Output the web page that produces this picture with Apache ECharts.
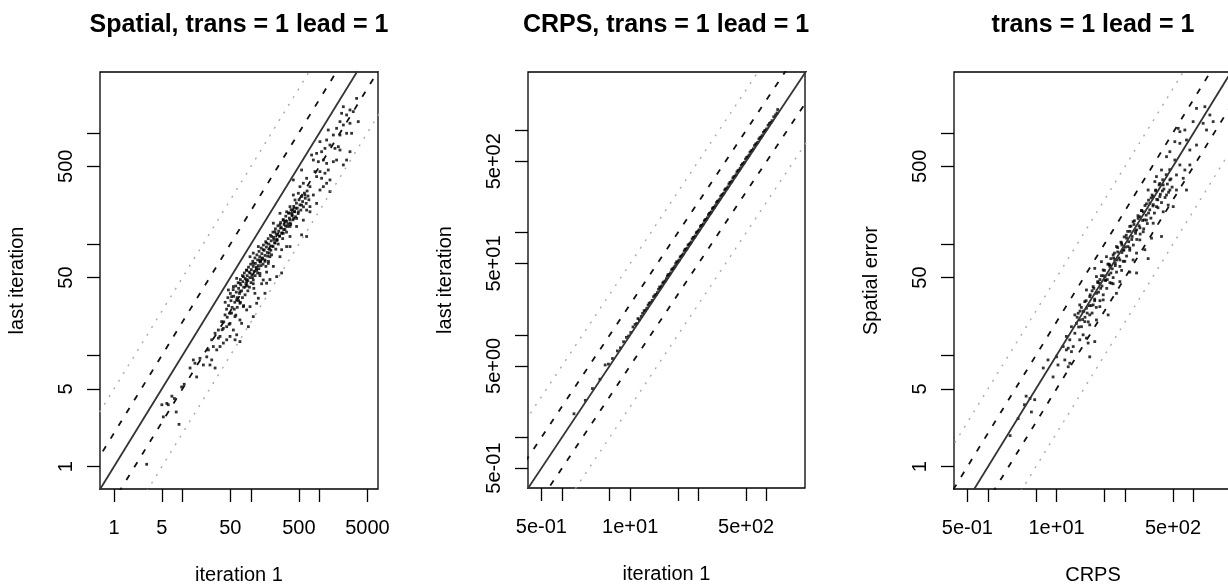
<!DOCTYPE html>
<html>
<head>
<meta charset="utf-8">
<script src="https://cdn.jsdelivr.net/npm/echarts@6/dist/echarts.min.js"></script>
<style>
html, body { margin: 0; padding: 0; background: #fff; }
#chart { width: 1228px; height: 585px; }
</style>
</head>
<body>
<div id="chart"></div>
<script>
// panel 1: spatial error, [iteration 1, last iteration]
const spatialPairs = [
  [8.9,2.4],[8.1,3.1],[7.0,4.3],[7.6,4.1],[6.2,3.6],[9.7,5.2],[10.6,5.5],[12.9,7.7],[14.4,9.1],[15.2,8.5],
  [16.1,6.4],[20.2,8.2],[25.2,8.2],[29.9,7.7],[26.7,9.1],[22.6,9.7],[23.9,11.2],[28.2,12.0],[31.6,11.2],[35.3,12.0],
  [39.5,12.9],[44.2,13.8],[49.4,14.8],[58.5,13.8],[69,13.3],[35.3,14.8],[26.7,13.8],[29.9,15.8],[33.4,16.9],[39.5,17.5],
  [44.2,18.1],[55.3,16.9],[61.8,15.3],[37.3,20.1],[41.8,23.1],[49.4,23.9],[58.5,22.3],[69,20.8],[73,19.4],[91.6,18.1],
  [108,22.3],[121,29.4],[96.8,27.4],[77.4,27.4],[69,29.4],[61.8,31.5],[52.2,33.7],[46.8,38.7],[55.3,41.5],[69,44.5],
  [86.5,46],[108,47.6],[135,54.6],[151,47.6],[114,36.1],[128,32.6],[169,44.5],[160,36.1],[179,67],[135,69.5],
  [108,67],[96.8,77],[86.5,58.5],[77.4,51],[61.8,49.2],[33.4,14.3],[49.4,19.4],[86.5,25.6],[69,37.4],[18,9.4],
  [3483,2037],[2786,1603],[2228,1714],[2104,1496],[2489,1445],[3112,1549],[3681,1259],[2786,1216],[1991,1259],[2228,1175],
  [2489,989],[2944,989],[1778,1096],[1343,1059],[1592,955],[1991,955],[1271,861],[1016,832],[1422,776],[1884,750],
  [1683,724],[1991,700],[2786,676],[1202,724],[1074,676],[908,653],[767,631],[813,569],[962,550],[1138,569],
  [1271,531],[1592,550],[1778,569],[2489,569],[2228,514],[1343,463],[1202,433],[1016,448],[859,448],[908,404],
  [1074,390],[1422,377],[1271,352],[1138,328],[1422,296],[1016,306],[649,390],[581,352],[519,328],[726,328],
  [548,463],[614,276],[813,276],[908,232],[726,217],[649,202],[548,224],[439,249],[415,276],[371,217],
  [331,195],[392,189],[463,170],[581,164],[726,195],[649,117],[548,121],[463,144],[371,144],[296,164],
  [265,149],[212,154],[224,129],[296,125],[371,117],[331,95],[280,89],[237,109],[200,117],[169,102],
  [151,89],[128,95],[108,83],[135,72],[160,70],[189,77],[212,63],[169,56],[121,58],[97,55],
  [86,48],[108,44],[143,44],[189,48],[237,51],[280,55],[371,95],[265,77],[491,195],[265,189],
  [415,377],[491,286],
  [40,20],[45,22],[52,24],[57,26],[63,27],[70,30],[75,33],[82,35],[90,38],[95,41],
  [100,45],[105,50],[115,52],[125,55],[130,60],[140,64],[150,66],[160,72],[175,78],[185,83],
  [195,88],[210,95],[225,102],[240,108],[260,118],[280,125],[300,135],[320,145],[345,152],[370,165],
  [400,180],[430,195],[38,17],[48,19],[60,23],[66,31],[78,28],[88,42],[110,40],[120,62],
  [135,52],[145,75],[165,63],[180,70],[200,80],[215,110],[230,90],[250,100],[270,140],[290,112],
  [310,160],[330,128],[360,190],[380,150],[420,170],[450,210],
  [3.0,1.05],[5.25,2.8],[5.9,3.7],[5.0,3.6],
  [42,30],[44,26],[46,33],[47,28],[50,36],[51,31],[53,27],[55,39],[56,34],[58,30],
  [60,42],[61,37],[63,33],[65,45],[66,40],[68,36],[70,48],[71,43],[73,38],[75,52],
  [76,46],[78,41],[80,55],[82,49],[84,44],[86,58],[88,52],[90,47],[92,62],[94,56],
  [96,50],[99,66],[101,59],[103,53],[106,70],[108,63],[111,57],[114,75],[116,67],[119,60],
  [122,80],[125,72],[128,64],[131,86],[134,77],[137,69],[141,92],[144,82],[148,74],[152,98],
  [156,88],[160,79],[164,105],[168,94],[173,84],[178,112],[182,100],[187,90],[192,120],[197,107],
  [203,96],[209,128],[215,115],[221,103],[227,137],[233,123],[240,110],[247,146],[254,131],[262,118],
  [270,156],[278,140],[286,126],[295,166],[304,150],[313,135],[322,178],[332,160],[342,144],[352,190],
  [363,171],[374,154],[385,204],[397,183],[409,165],[421,218],[434,196],[447,176],[460,233],[474,210],
  [488,188],[503,250],[518,225],[534,202],[550,268],[567,241],[584,216],[602,287],[620,258],[640,232],
  [660,300],[680,270],[700,250]
];

// panel 2: CRPS, [iteration 1, last iteration]
const crpsPairs = [
  [1.5,1.7],[2.2,2.3],[3.6,3.7],[4.3,5.1],[4.8,5.2],[6.5,7.0],[8,8.6],[9.5,9.8],[11,12],[12.5,13],
  [13,14.5],[14.5,15.2],[16,17.3],[17.5,18.2],[19,20.5],[21,21.8],[23,24.6],[25,26],[27,29.5],[29,30.2],
  [31,33],[34,35.5],[36,39],[39,40.5],[42,44.5],[45,46.8],[48,52],[52,54],[56,59],[60,62],
  [64,69],[68,70.5],[73,77],[78,81],[84,90],[90,93],[96,102],[103,107],[110,118],[118,122],
  [126,134],[135,140],[145,155],[155,160],[165,176],[178,184],[190,203],[205,212],[220,234],[235,243],
  [250,268],[270,280],[290,310],[310,320],[330,352],[355,368],[380,405],[410,425],[440,470],[470,487],
  [510,545],[550,570],[590,630],[640,662],[690,735],[740,765],[800,850],[860,890],[930,990],[1000,1035],
  [1100,1170],[1200,1245],[1350,1420],[1450,1600],
  [2.8,3.0],[5.5,5.9],[7.2,7.5],[8.8,9.5],[10.2,10.6],[11.8,12.7],[13.6,14.1],[15.2,16.3],[16.8,17.4],[18.3,19.6],
  [20,20.8],[22,23.7],[24,24.9],[26,28],[28,29],[30,32.3],[32.5,33.8],[35,37.6],[37.5,39],[40.5,43.5],
  [43.5,45.2],[46.5,50],[50,52],[54,58],[58,60.3],[62,66.5],[66,68.6],[70.5,75.8],[75.5,78.5],[81,87],
  [87,90.5],[93,100],[100,104],[107,115],[114,118.5],[122,131],[130,135],[140,150],[150,156],[160,172],
  [171,178],[184,197],[197,205],[212,227],[228,237],[243,261],[260,270],[280,300],[300,312],[320,343],
  [342,355],[367,393],[395,410],[425,455],[455,473],[490,525],[530,551],[570,610],[615,640],[665,712],
  [715,743],[770,825],[830,862],[895,958],[965,1003],[1050,1125],[1150,1196],[1270,1360],[1420,1480]
];

// panel 3: [CRPS, spatial error]
const crpsSpatialPairs = [
  [3.6,4.3],[4.1,4.1],[3.4,3.6],[4.3,3.1],[4.8,4.0],[2.75,2.7],[2.1,1.9],[6.4,7.7],[7.5,9.1],[8.9,6.4],
  [10.5,8.2],[14.8,7.9],[15.6,8.5],[13.2,9.1],[13.9,11.2],[16.5,10.8],[12.5,12.0],[17.5,12.0],[21.8,13.8],[28.9,12.9],
  [36.1,13.3],[15.6,13.8],[13.9,14.8],[18.5,15.8],[24.4,15.3],[27.3,14.3],[16.5,18.1],[19.5,19.4],[21.8,20.8],[25.8,20.1],
  [30.5,18.8],[38.2,20.8],[18.5,23.1],[20.7,23.9],[24.4,24.7],[30.5,23.1],[27.3,26.5],[21.8,28.4],[25.8,30.4],[34.2,28.4],
  [42.8,27.4],[56.6,23.1],[30.5,33.7],[38.2,36.1],[47.9,31.5],[27.3,38.7],[34.2,41.5],[42.8,44.5],[50.6,47.6],[63.2,44.5],
  [74.8,36.1],[38.2,51],[47.9,58.5],[59.8,64.9],[70.8,72],[53.5,77],[45.2,69.5],[36.1,60.5],[10,9.7],[14.8,11.6],
  [30.5,9.7],[23.1,18.1],
  [1459,1714],[1102,1656],[1726,1445],[1928,1259],[1377,1216],[1542,1059],[984,1259],[745,1059],[596,1096],[787,861],
  [630,804],[532,832],[1102,776],[881,700],[450,676],[402,610],[532,569],[630,514],[881,514],[745,463],
  [562,418],[705,390],[787,306],[562,306],[450,377],[340,463],[287,404],[272,364],[360,340],[402,276],
  [321,267],[257,267],[217,306],[230,232],[287,217],[426,224],[504,217],[360,195],[184,195],[164,176],
  [205,164],[257,154],[131,159],[117,144],[147,134],[184,129],[340,117],[243,113],[164,109],[105,113],
  [89,102],[75,95],[94,89],[117,92],[147,83],[194,89],[131,72],[99,70],[75,72],[67,80],
  [60,63],[89,58],[117,56],[147,55],[51,51],[43,48],[67,44],[84,46],[217,74],[450,306],
  [630,1023],
  [22,25],[26,22],[30,28],[33,38],[36,31],[40,45],[44,40],[48,52],[55,48],[58,66],
  [62,55],[68,75],[72,64],[78,85],[84,72],[90,98],[96,88],[104,120],[110,95],[118,130],
  [125,110],[135,150],[142,125],[155,170],[165,140],[175,200],[190,165],[205,230],[220,190],[240,260],
  [255,220],[280,300],[300,250],[320,350],[350,300],
  [20,22],[21,18],[23,27],[24,21],[25,25],[27,31],[28,24],[29,20],[31,35],[32,28],
  [33,24],[35,40],[36,32],[38,27],[40,46],[41,37],[43,31],[45,52],[46,42],[48,35],
  [50,58],[52,47],[54,40],[56,66],[58,53],[60,45],[62,74],[65,60],[67,50],[70,83],
  [72,67],[75,56],[78,93],[81,75],[84,63],[87,104],[90,84],[94,70],[97,116],[101,94],
  [105,78],[109,130],[113,105],[117,88],[122,145],[127,117],[132,98],[137,162],[142,131],[148,110],
  [154,180],[160,146],[166,123],[173,200],[180,163],[187,137],[195,222],[203,182],[211,153],[220,248],
  [229,203],[238,171],[248,276],[258,226],[268,190],[279,306],[290,252],[302,212],[314,340],[327,280],
  [340,236],[354,378],[368,312],[383,262],[398,420],[414,346],[431,292],[448,466],[466,385],[485,325]
];

const panelTitles = ['Spatial, trans = 1 lead = 1', 'CRPS, trans = 1 lead = 1', 'trans = 1 lead = 1'];
const xNames = ['iteration 1', 'iteration 1', 'CRPS'];
const yNames = ['last iteration', 'last iteration', 'Spatial error'];

// ticks, and the subset that gets a label (R leaves out the crowded ones)
const plainTicks = [1, 5, 10, 50, 100, 500, 1000, 5000];
const plainLabelsX = [1, 5, 50, 500, 5000];
const plainLabelsY = [1, 5, 50, 500];
const sciTicks = [0.5, 1, 5, 10, 50, 100, 500, 1000];
const sciLabelsX = [0.5, 10, 500];
const sciLabelsY = [0.5, 5, 50, 500];
const sciValues = [0.5, 1, 5, 10, 50, 100, 500, 1000];
const sciTexts = ['5e-01', '1e+00', '5e+00', '1e+01', '5e+01', '1e+02', '5e+02', '1e+03'];

// reference lines y = k * x
const lineRatios = [1, 2, 0.5, 5, 0.2];

const xRanges = [[0.625, 7145], [0.318, 3648], [0.319, 3630]];
const yRanges = [[0.63, 3516], [0.32, 3724], [0.63, 3516]];

const font = '"Liberation Sans", Arial, Helvetica, sans-serif';
const grids = [
  {left: 100, top: 72, width: 278, height: 417},
  {left: 528, top: 72, width: 277, height: 416},
  {left: 954, top: 72, width: 278, height: 417}
];
const titleX = [239, 666, 1093];
const pairsByPanel = [spatialPairs, crpsPairs, crpsSpatialPairs];

function sciLabel(v) {
  for (let i = 0; i < sciValues.length; i++) {
    if (Math.abs(Math.log10(v) - Math.log10(sciValues[i])) < 1e-6) return sciTexts[i];
  }
  return '';
}

function makeAxis(i, isX) {
  const range = isX ? xRanges[i] : yRanges[i];
  const sci = isX ? i > 0 : i === 1;
  const ticks = sci ? sciTicks : plainTicks;
  const labels = sci ? (isX ? sciLabelsX : sciLabelsY) : (isX ? plainLabelsX : plainLabelsY);
  return {
    type: 'log',
    logBase: 10,
    gridIndex: i,
    min: range[0],
    max: range[1],
    name: isX ? xNames[i] : yNames[i],
    nameLocation: 'middle',
    nameGap: isX ? 76 : 73,
    nameMoveOverlap: false,
    nameTextStyle: {fontFamily: font, fontSize: 20, color: '#000'},
    axisLine: {show: false},
    axisTick: {show: true, inside: false, length: 13, customValues: ticks,
      lineStyle: {color: '#000', width: 1.3}},
    axisLabel: {
      customValues: labels,
      rotate: isX ? 0 : 90,
      margin: isX ? 29 : 24,
      fontFamily: font, fontSize: 20, color: '#000',
      formatter: v => sci ? sciLabel(v) : String(+Number(v).toPrecision(6))
    },
    splitLine: {show: false},
    minorTick: {show: false}
  };
}

const series = [];
for (let i = 0; i < 3; i++) {
  series.push({
    type: 'scatter',
    xAxisIndex: i, yAxisIndex: i,
    data: pairsByPanel[i],
    symbol: 'rect',
    symbolSize: 2.8,
    itemStyle: {color: '#000'},
    silent: true
  });
  lineRatios.forEach(k => {
    const style = k === 1 ? {color: '#333', width: 1.8, type: 'solid'}
      : (k === 2 || k === 0.5) ? {color: '#111', width: 1.8, type: [6, 9]}
      : {color: '#aaa', width: 1.4, type: [2, 7]};
    series.push({
      type: 'line',
      xAxisIndex: i, yAxisIndex: i,
      data: [[0.01, 0.01 * k], [100000, 100000 * k]],
      showSymbol: false,
      clip: true,
      lineStyle: style,
      silent: true
    });
  });
}

const chart = echarts.init(document.getElementById('chart'));
chart.setOption({
  animation: false,
  backgroundColor: '#fff',
  title: panelTitles.map((t, i) => ({
    text: t, left: titleX[i], top: 13, padding: 0, textAlign: 'center',
    textStyle: {fontFamily: font, fontSize: 25, fontWeight: 'bold', color: '#000'}
  })),
  grid: grids.map(g => Object.assign({
    show: true, borderColor: '#000', borderWidth: 1.3, containLabel: false, outerBoundsMode: 'none'
  }, g)),
  xAxis: [0, 1, 2].map(i => makeAxis(i, true)),
  yAxis: [0, 1, 2].map(i => makeAxis(i, false)),
  series: series
});
</script>
</body>
</html>
